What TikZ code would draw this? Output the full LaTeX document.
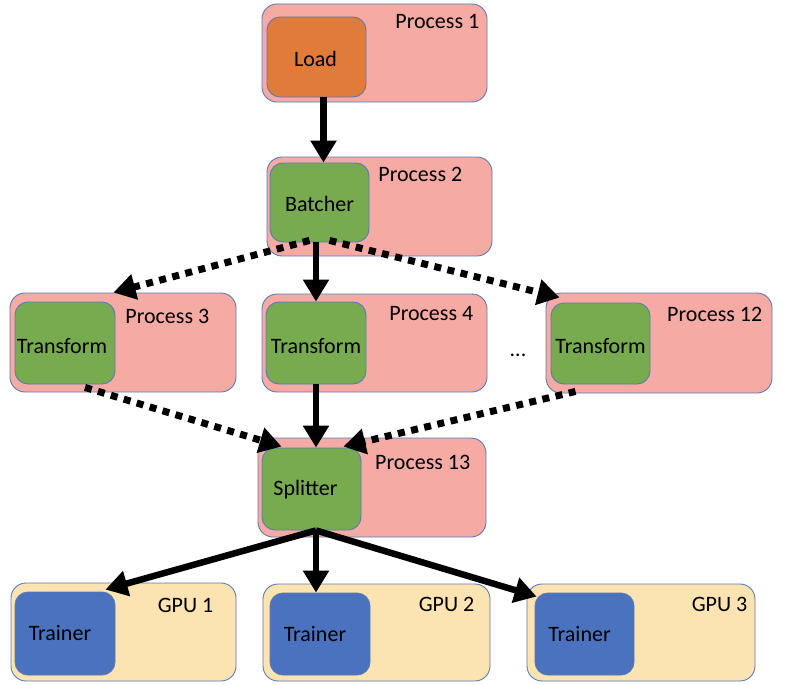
\documentclass[tikz,border=0pt]{standalone}
\usepackage{fontspec}
\setmainfont{Carlito}
\usetikzlibrary{arrows.meta}
\definecolor{pinkfill}{HTML}{F5AAA4}
\definecolor{boxborder}{HTML}{5A7AB5}
\definecolor{greenfill}{HTML}{78AA50}
\definecolor{orangefill}{HTML}{E07B39}
\definecolor{bluefill}{HTML}{4A72BE}
\definecolor{yellowfill}{HTML}{FBE3B2}
\tikzset{
  outerbox/.style={draw=boxborder, line width=0.9pt, rounded corners=15pt, inner sep=0pt},
  procbox/.style={outerbox, fill=pinkfill},
  gpubox/.style={outerbox, fill=yellowfill},
  innerbox/.style={draw=boxborder, line width=0.9pt, rounded corners=13pt, inner sep=0pt, text=black},
  lbl/.style={anchor=north east, inner sep=0pt, text=black},
  solidarrow/.style={line width=6.5pt, -{Triangle[length=22pt,width=25pt]}},
  dotarrow/.style={line width=7pt, dash pattern=on 7pt off 6.5pt, -{Triangle[length=22pt,width=25pt]}},
}
\begin{document}
\begin{tikzpicture}[x=1pt,y=-1pt,font=\fontsize{22}{24}\selectfont]
\useasboundingbox (0,0) rectangle (790,685);
% outer boxes
\node[procbox, minimum width=225pt, minimum height=98pt] (p1) at (374.5,53) {};
\node[procbox, minimum width=225pt, minimum height=99pt] (p2) at (379.5,206.5) {};
\node[procbox, minimum width=226pt, minimum height=99pt] (p3) at (123,342.5) {};
\node[procbox, minimum width=225pt, minimum height=98pt] (p4) at (374.5,343) {};
\node[procbox, minimum width=226pt, minimum height=100pt] (p12) at (659,343) {};
\node[procbox, minimum width=228pt, minimum height=99pt] (p13) at (372,487.5) {};
\node[gpubox, minimum width=225pt, minimum height=98pt] (g1) at (123.5,632) {};
\node[gpubox, minimum width=227pt, minimum height=97pt] (g2) at (376.5,632.5) {};
\node[gpubox, minimum width=228pt, minimum height=97pt] (g3) at (641,632.5) {};
% inner boxes
\node[innerbox, fill=orangefill, minimum width=99pt, minimum height=80pt] (load) at (316.5,57) {};
\node[innerbox, fill=greenfill, minimum width=99pt, minimum height=79pt] (batcher) at (319.5,202.5) {};
\node[innerbox, fill=greenfill, minimum width=100pt, minimum height=82pt] (t3) at (65,343) {};
\node[innerbox, fill=greenfill, minimum width=100pt, minimum height=82pt] (t4) at (316,343) {};
\node[innerbox, fill=greenfill, minimum width=99pt, minimum height=81pt] (t12) at (600.5,343.5) {};
\node[innerbox, fill=greenfill, minimum width=99pt, minimum height=82pt] (split) at (311.5,489) {};
\node[innerbox, fill=bluefill, minimum width=100pt, minimum height=83pt] (tr1) at (65,633.5) {};
\node[innerbox, fill=bluefill, minimum width=100pt, minimum height=82pt] (tr2) at (320,634) {};
\node[innerbox, fill=bluefill, minimum width=99pt, minimum height=82pt] (tr3) at (584.5,634) {};
% inner texts
\node[inner sep=0pt] (loadtxt) at ([xshift=-1pt,yshift=-2pt]load.center) {Load};
\node[inner sep=0pt] (batchtxt) at ([yshift=-1pt]batcher.center) {Batcher};
\node[inner sep=0pt] (t3txt) at ([xshift=-3pt,yshift=-3pt]t3.center) {Transform};
\node[inner sep=0pt] (t4txt) at ([yshift=-3pt]t4.center) {Transform};
\node[inner sep=0pt] (t12txt) at ([yshift=-3pt]t12.center) {Transform};
\node[inner sep=0pt] (splittxt) at ([xshift=-6pt,yshift=-1pt]split.center) {Splitter};
\node[inner sep=0pt] (tr1txt) at ([xshift=-5pt]tr1.center) {Trainer};
\node[inner sep=0pt] (tr2txt) at ([xshift=-5pt]tr2.center) {Trainer};
\node[inner sep=0pt] (tr3txt) at ([xshift=-5pt]tr3.center) {Trainer};
% labels
\node[lbl] (l1) at ([xshift=-8pt,yshift=-11pt]p1.north east) {Process 1};
\node[lbl] (l2) at ([xshift=-30pt,yshift=-10pt]p2.north east) {Process 2};
\node[lbl] (l3) at ([xshift=-27pt,yshift=-16pt]p3.north east) {Process 3};
\node[lbl] (l4) at ([xshift=-14pt,yshift=-13pt]p4.north east) {Process 4};
\node[lbl] (l12) at ([xshift=-10pt,yshift=-14pt]p12.north east) {Process 12};
\node[lbl] (l13) at ([xshift=-16pt,yshift=-17pt]p13.north east) {Process 13};
\node[lbl] (lg1) at ([xshift=-23pt,yshift=-15pt]g1.north east) {GPU 1};
\node[lbl] (lg2) at ([xshift=-16pt,yshift=-13pt]g2.north east) {GPU 2};
\node[lbl] (lg3) at ([xshift=-8pt,yshift=-13pt]g3.north east) {GPU 3};
\node[inner sep=0pt] (dots) at (518,355) {...};
% connectors
\coordinate (a1) at ([xshift=4pt]batcher.north);
\draw[solidarrow] (load.south -| a1) -- (a1);
\draw[solidarrow] (batcher.south -| t4.north) -- (t4.north);
\coordinate (d3) at ([xshift=-2pt]t3.north east);
\draw[dotarrow] ([xshift=-10pt,yshift=2pt]batcher.south) -- (d3 |- p3.north);
\draw[dotarrow] ([xshift=10pt,yshift=2pt]batcher.south) -- ([xshift=9pt,yshift=5pt]t12.north west);
\draw[dotarrow] ([xshift=20pt,yshift=-3pt]t3.south) -- ([xshift=20pt,yshift=1pt]split.north west);
\draw[dotarrow] ([xshift=-25pt,yshift=-7pt]t12.south) -- ([xshift=-18pt,yshift=1pt]split.north east);
\draw[solidarrow] (t4.south) -- (t4.south |- split.north);
\coordinate (sp) at ([xshift=4.5pt]split.south);
\draw[solidarrow] (sp) -- (sp |- tr2.north);
\draw[solidarrow] (sp) -- ([xshift=-10pt,yshift=2pt]tr1.north east);
\draw[solidarrow] (sp) -- ([xshift=2pt,yshift=-4pt]tr3.north west);
\end{tikzpicture}
\end{document}
